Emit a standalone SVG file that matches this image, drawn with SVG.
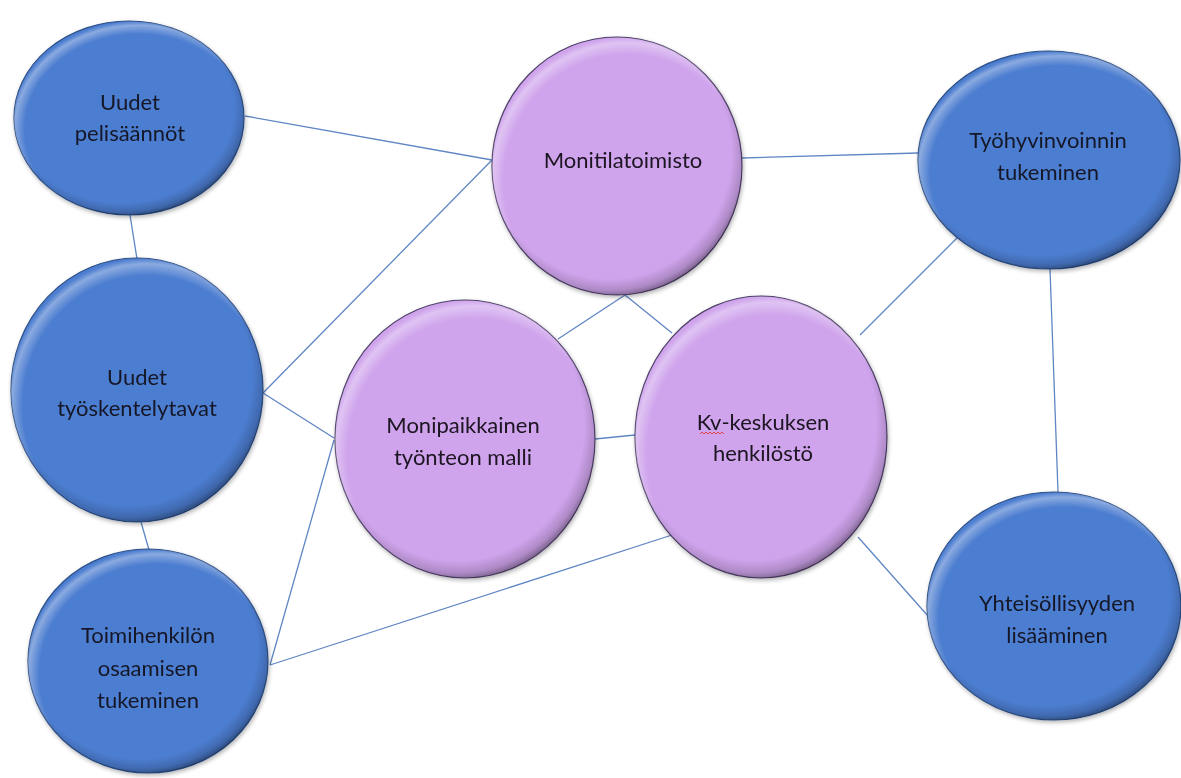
<svg xmlns="http://www.w3.org/2000/svg" width="1181" height="778" viewBox="0 0 1181 778">
  <defs>
    <!-- darker rim toward lower right -->
    <radialGradient id="rimShade" cx="0.47" cy="0.45" r="0.56">
      <stop offset="0.87" stop-color="#000" stop-opacity="0"/>
      <stop offset="0.95" stop-color="#000" stop-opacity="0.16"/>
      <stop offset="1" stop-color="#000" stop-opacity="0.42"/>
    </radialGradient>
    <!-- soft highlight along upper left rim -->
    <radialGradient id="rimLight" cx="0.54" cy="0.56" r="0.56">
      <stop offset="0.88" stop-color="#fff" stop-opacity="0"/>
      <stop offset="0.96" stop-color="#fff" stop-opacity="0.35"/>
      <stop offset="1" stop-color="#fff" stop-opacity="0"/>
    </radialGradient>
    <filter id="shadow" x="-10%" y="-10%" width="120%" height="125%">
      <feGaussianBlur in="SourceAlpha" stdDeviation="2"/>
      <feOffset dx="1" dy="2" result="b"/>
      <feComponentTransfer><feFuncA type="linear" slope="0.3"/></feComponentTransfer>
      <feMerge><feMergeNode/><feMergeNode in="SourceGraphic"/></feMerge>
    </filter>
  </defs>
  <style>
    .conn line { stroke: #5f86c4; stroke-width: 1.3; fill: none; }
    .blue .base { fill: #4c7dd0; stroke: #2d4f86; stroke-width: 1.2; }
    .purple .base { fill: #cfa4ec; stroke: #4e4068; stroke-width: 1.2; }
    .shade { fill: url(#rimShade); }
    .light { fill: url(#rimLight); }
    text { font-family: Lato, "Open Sans", "Liberation Sans", sans-serif; font-size: 22px; fill: #151827; text-anchor: middle; }
    .purple text { fill: #1c1420; }
  </style>

  <rect width="1181" height="778" fill="#ffffff"/>

  <g id="connectors" class="conn">
    <line x1="245" y1="116" x2="492" y2="160"/>
    <line x1="492" y1="160" x2="263" y2="393"/>
    <line x1="263" y1="393" x2="334" y2="438"/>
    <line x1="130" y1="215" x2="137" y2="259"/>
    <line x1="141" y1="522" x2="149" y2="550"/>
    <line x1="270" y1="665" x2="334" y2="440"/>
    <line x1="270" y1="665" x2="672" y2="535"/>
    <line x1="625" y1="295" x2="558" y2="339"/>
    <line x1="625" y1="295" x2="672" y2="333"/>
    <line x1="595" y1="439" x2="635" y2="435"/>
    <line x1="742" y1="158" x2="918" y2="153"/>
    <line x1="860" y1="335" x2="957" y2="238"/>
    <line x1="1050" y1="269" x2="1058" y2="492"/>
    <line x1="858" y1="537" x2="928" y2="616"/>
  </g>

  <g id="node-uudet-pelisaannot" class="blue" filter="url(#shadow)">
    <ellipse class="base" cx="129" cy="118" rx="115" ry="97"/>
    <ellipse class="shade" cx="129" cy="118" rx="115" ry="97"/>
    <ellipse class="light" cx="129" cy="118" rx="115" ry="97"/>
    <text x="130" y="110">Uudet</text>
    <text x="130" y="141">pelisäännöt</text>
  </g>

  <g id="node-uudet-tyoskentelytavat" class="blue" filter="url(#shadow)">
    <ellipse class="base" cx="137" cy="390" rx="126" ry="132"/>
    <ellipse class="shade" cx="137" cy="390" rx="126" ry="132"/>
    <ellipse class="light" cx="137" cy="390" rx="126" ry="132"/>
    <text x="137" y="385">Uudet</text>
    <text x="137" y="416">työskentelytavat</text>
  </g>

  <g id="node-toimihenkilon-osaaminen" class="blue" filter="url(#shadow)">
    <ellipse class="base" cx="148" cy="661" rx="120" ry="112"/>
    <ellipse class="shade" cx="148" cy="661" rx="120" ry="112"/>
    <ellipse class="light" cx="148" cy="661" rx="120" ry="112"/>
    <text x="148" y="643">Toimihenkilön</text>
    <text x="148" y="676">osaamisen</text>
    <text x="148" y="708">tukeminen</text>
  </g>

  <g id="node-monitilatoimisto" class="purple" filter="url(#shadow)">
    <ellipse class="base" cx="617" cy="166" rx="125" ry="129"/>
    <ellipse class="shade" cx="617" cy="166" rx="125" ry="129"/>
    <ellipse class="light" cx="617" cy="166" rx="125" ry="129"/>
    <text x="623" y="168">Monitilatoimisto</text>
  </g>

  <g id="node-monipaikkainen" class="purple" filter="url(#shadow)">
    <ellipse class="base" cx="465" cy="439" rx="130" ry="139"/>
    <ellipse class="shade" cx="465" cy="439" rx="130" ry="139"/>
    <ellipse class="light" cx="465" cy="439" rx="130" ry="139"/>
    <text x="463" y="433">Monipaikkainen</text>
    <text x="463" y="465">työnteon malli</text>
  </g>

  <g id="node-kv-keskus" class="purple" filter="url(#shadow)">
    <ellipse class="base" cx="761" cy="437" rx="126" ry="141"/>
    <ellipse class="shade" cx="761" cy="437" rx="126" ry="141"/>
    <ellipse class="light" cx="761" cy="437" rx="126" ry="141"/>
    <text x="763" y="430">Kv-keskuksen</text>
    <text x="763" y="461">henkilöstö</text>
    <!-- spell-check squiggle under "Kv" -->
    <path d="M700 434 l2 -2 l2 2 l2 -2 l2 2 l2 -2 l2 2 l2 -2 l2 2 l2 -2 l2 2 l2 -2 l2 2" fill="none" stroke="#e03a3a" stroke-width="0.9"/>
  </g>

  <g id="node-tyohyvinvointi" class="blue" filter="url(#shadow)">
    <ellipse class="base" cx="1049" cy="160" rx="131" ry="109"/>
    <ellipse class="shade" cx="1049" cy="160" rx="131" ry="109"/>
    <ellipse class="light" cx="1049" cy="160" rx="131" ry="109"/>
    <text x="1048" y="148">Työhyvinvoinnin</text>
    <text x="1048" y="180">tukeminen</text>
  </g>

  <g id="node-yhteisollisyys" class="blue" filter="url(#shadow)">
    <ellipse class="base" cx="1054" cy="606" rx="127" ry="114"/>
    <ellipse class="shade" cx="1054" cy="606" rx="127" ry="114"/>
    <ellipse class="light" cx="1054" cy="606" rx="127" ry="114"/>
    <text x="1057" y="611">Yhteisöllisyyden</text>
    <text x="1057" y="643">lisääminen</text>
  </g>
</svg>
